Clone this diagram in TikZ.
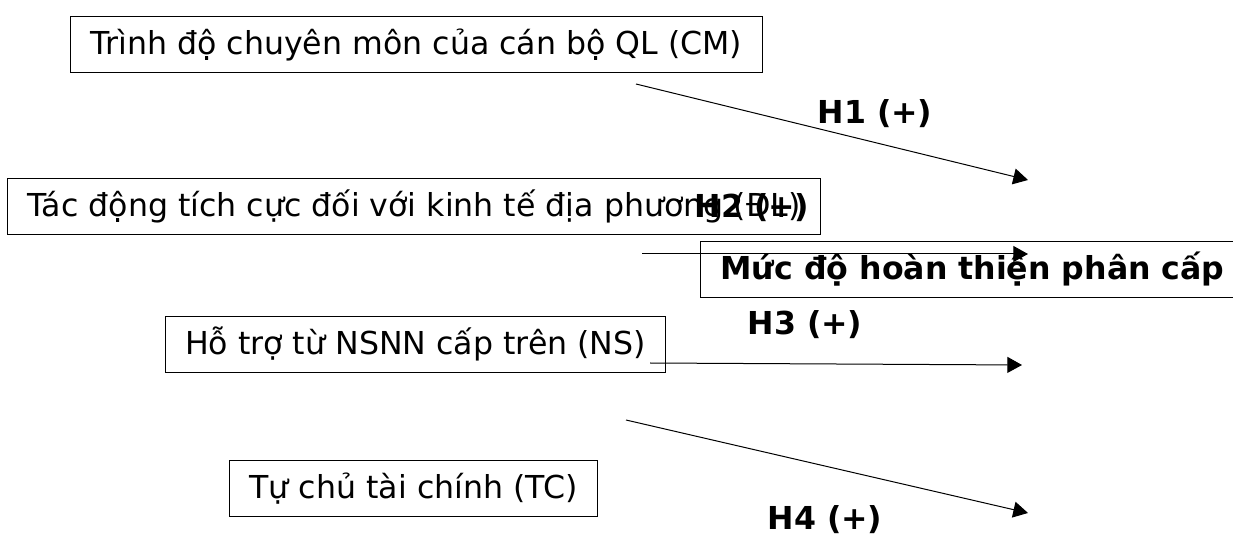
\documentclass[tikz,border=0pt]{standalone}
\usepackage{fontspec}
\setmainfont{DejaVu Sans}
\usetikzlibrary{arrows.meta}

\begin{document}
\begin{tikzpicture}[x=0.75pt,y=-0.75pt,
    every node/.style={font=\fontsize{23.7}{28}\selectfont,text height=20.25pt,text depth=5.25pt},
    box/.style={draw,line width=0.75pt,inner xsep=15pt,inner ysep=0pt,minimum height=42pt},
    hyp/.style={font=\fontsize{23.7}{28}\selectfont\bfseries},
    link/.style={-{Triangle[length=11pt,width=12pt]},line width=0.75pt}]
    \useasboundingbox (0,0) rectangle (1233,534);
    % factor boxes on the left
    \node[box] (cm) at (416.5,45) {Trình độ chuyên môn của cán bộ QL (CM)};
    \node[box] (dp) at (414,206.5) {Tác động tích cực đối với kinh tế địa phương (ĐL)};
    \node[box] (ns) at (415.5,345) {Hỗ trợ từ NSNN cấp trên (NS)};
    \node[box] (tc) at (413.5,489) {Tự chủ tài chính (TC)};
    % outcome box, runs off the right edge
    \node[box,anchor=west,font=\fontsize{23.7}{28}\selectfont\bfseries] (pc) at (700,269.5) {Mức độ hoàn thiện phân cấp};
    % arrow ends
    \coordinate (h1s) at (636,84);   \coordinate (h1e) at (1028,180);
    \coordinate (h2s) at (642,254);  \coordinate (h2e) at (1028,254);
    \coordinate (h3s) at (650,363);  \coordinate (h3e) at (1022,365);
    \coordinate (h4s) at (626,420);  \coordinate (h4e) at (1028,513);
    \draw[link] (h1s) -- (h1e);
    \draw[link] (h2s) -- (h2e);
    \draw[link] (h3s) -- (h3e);
    \draw[link] (h4s) -- (h4e);
    % hypothesis labels
    \node[hyp] (h1) at (875,114) {H1 (+)};
    \node[hyp] (h2) at (752,208) {H2 (+)};
    \node[hyp] (h3) at (805,325) {H3 (+)};
    \node[hyp] (h4) at (825,520) {H4 (+)};
\end{tikzpicture}
\end{document}
